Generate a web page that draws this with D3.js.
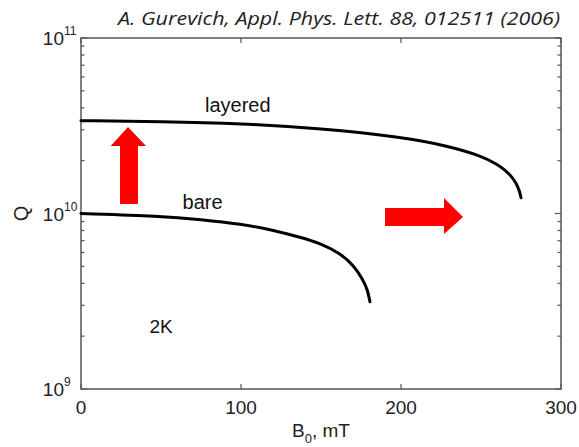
<!DOCTYPE html>
<html><head><meta charset="utf-8">
<script src="https://cdn.jsdelivr.net/npm/d3@7"></script>
<style>body{margin:0;background:#fff}svg{display:block}</style>
</head><body>
<svg id="c" width="579" height="447"></svg>
<script>
// ---- data ----
const layeredB = [0, 50, 100, 150, 200, 230, 250, 260, 265, 269, 272, 274, 275];
const layeredQ = [3.38e10, 3.34e10, 3.26e10, 3.05e10, 2.73e10, 2.42e10, 2.13e10, 1.91e10, 1.77e10, 1.63e10, 1.49e10, 1.35e10, 1.23e10];
const bareB = [0, 50, 75, 100, 120, 136.9, 149.4, 161.9, 170.2, 176.4, 179.1, 180.6];
const bareQ = [1.0e10, 9.67e9, 9.24e9, 8.71e9, 8.05e9, 7.32e9, 6.77e9, 5.93e9, 5.09e9, 4.18e9, 3.67e9, 3.14e9];
const xTicks = [0, 100, 200, 300];
const yTickExp = [9, 10, 11];
const seriesLabels = ["layered", "bare"];
const tempLabel = "2K";
const citation = "A. Gurevich, Appl. Phys. Lett. 88, 012511 (2006)";

const svg = d3.select("#c");
const L = 81, R = 561, T = 38, B = 389;
const x = d3.scaleLinear().domain([0, 300]).range([L, R]);
const y = d3.scaleLog().domain([1e9, 1e11]).range([B, T]);
const font = "'Liberation Sans', Arial, sans-serif";
const axisCol = "#555";

// frame
svg.append("rect").attr("x", L).attr("y", T).attr("width", R - L).attr("height", B - T)
  .attr("fill", "none").attr("stroke", axisCol).attr("stroke-width", 1.5);

const g = svg.append("g");
// x ticks (inward, bottom and top)
xTicks.forEach(t => {
  g.append("line").attr("x1", x(t)).attr("x2", x(t)).attr("y1", B).attr("y2", B - 5).attr("stroke", axisCol).attr("stroke-width", 1.2);
  g.append("line").attr("x1", x(t)).attr("x2", x(t)).attr("y1", T).attr("y2", T + 5).attr("stroke", axisCol).attr("stroke-width", 1.2);
  g.append("text").attr("x", x(t)).attr("y", 414).attr("text-anchor", "middle")
    .attr("font-family", font).attr("font-size", 19).attr("fill", "#222").text(t);
});

// y ticks (log, inward both sides)
y.ticks().forEach(v => {
  const major = Math.abs(Math.log10(v) - Math.round(Math.log10(v))) < 1e-9;
  const len = major ? 6 : 3.5;
  g.append("line").attr("x1", L).attr("x2", L + len).attr("y1", y(v)).attr("y2", y(v)).attr("stroke", axisCol).attr("stroke-width", 1.2);
  g.append("line").attr("x1", R).attr("x2", R - len).attr("y1", y(v)).attr("y2", y(v)).attr("stroke", axisCol).attr("stroke-width", 1.2);
});
yTickExp.forEach(e => {
  const t = g.append("text").attr("y", y(Math.pow(10, e)) + 7)
    .attr("font-family", font).attr("font-size", 19).attr("fill", "#222");
  t.append("tspan").text("10");
  t.append("tspan").attr("dy", -10).attr("font-size", 12).text(e);
  const base = t.node().firstChild.getComputedTextLength();
  t.attr("x", 64 - base);
});

// axis titles
svg.append("text").attr("transform", `translate(28,${y(1e10)}) rotate(-90)`).attr("text-anchor", "middle")
  .attr("font-family", font).attr("font-size", 20).attr("fill", "#222").text("Q");
const xl = svg.append("text").attr("x", 321).attr("y", 437).attr("text-anchor", "middle")
  .attr("font-family", font).attr("font-size", 19).attr("fill", "#222");
xl.append("tspan").text("B");
xl.append("tspan").attr("dy", 6).attr("font-size", 13).text("0");
xl.append("tspan").attr("dy", -6).text(", mT");

// curves
const line = d3.line().x(d => x(d[0])).y(d => y(d[1])).curve(d3.curveBasis);
[[layeredB, layeredQ], [bareB, bareQ]].forEach(([bs, qs]) => {
  svg.append("path").datum(bs.map((b, i) => [b, qs[i]])).attr("d", line)
    .attr("fill", "none").attr("stroke", "#000").attr("stroke-width", 3).attr("stroke-linecap", "round");
});

// labels
svg.append("text").attr("x", x(98)).attr("y", 112).attr("text-anchor", "middle")
  .attr("font-family", font).attr("font-size", 20).attr("fill", "#111").text(seriesLabels[0]);
svg.append("text").attr("x", x(76)).attr("y", 209).attr("text-anchor", "middle")
  .attr("font-family", font).attr("font-size", 20).attr("fill", "#111").text(seriesLabels[1]);
svg.append("text").attr("x", x(50)).attr("y", 333).attr("text-anchor", "middle")
  .attr("font-family", font).attr("font-size", 19).attr("fill", "#111").text(tempLabel);

// citation
svg.append("text").attr("x", 560).attr("y", 25).attr("text-anchor", "end")
  .attr("font-family", "'Open Sans', sans-serif").attr("font-style", "italic").attr("font-size", 19)
  .attr("textLength", 442).attr("lengthAdjust", "spacingAndGlyphs").attr("fill", "#222").text(citation);

// red arrows (annotations)
svg.append("path").attr("d", "M120,204 L138,204 L138,146 L146,146 L128,127 L110.7,146 L120,146 Z").attr("fill", "#ff0000");
svg.append("path").attr("d", "M385,208 L444,208 L444,198 L463,217 L444,234 L444,226 L385,226 Z").attr("fill", "#ff0000");
</script>
</body></html>
